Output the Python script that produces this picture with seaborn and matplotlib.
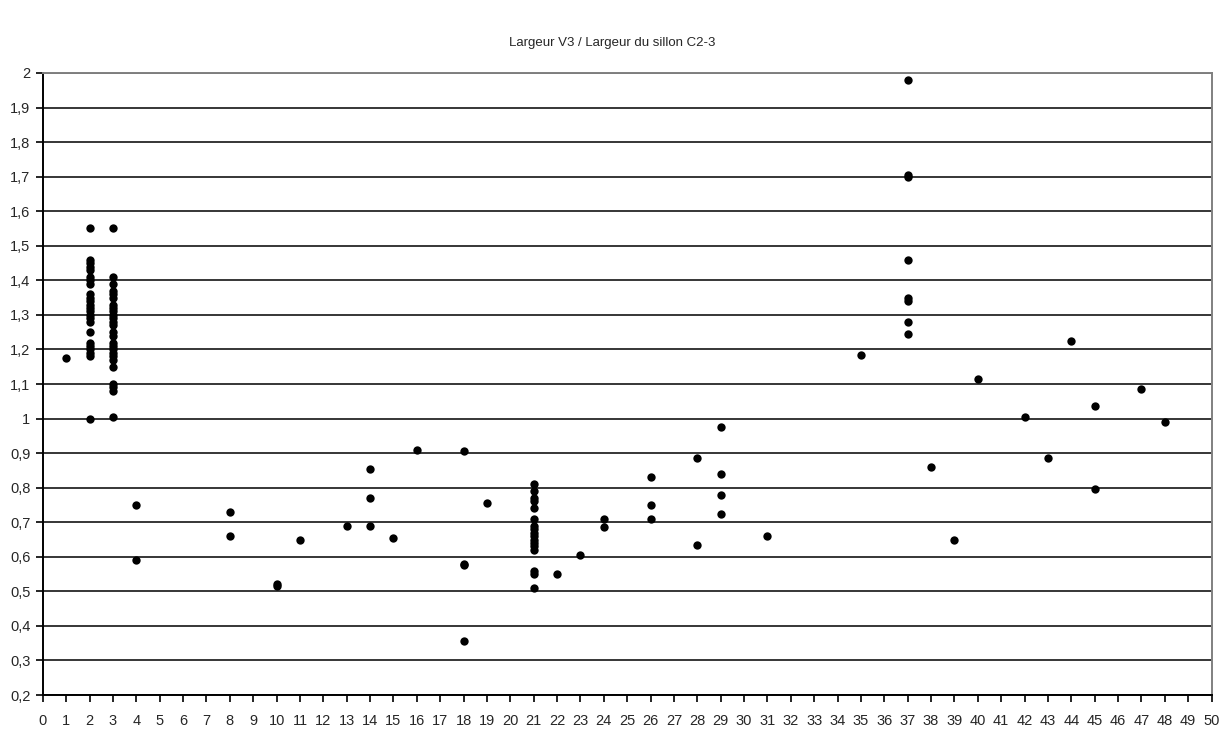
import numpy as np
import pandas as pd
import matplotlib
matplotlib.use('Agg')
import matplotlib.pyplot as plt
import seaborn as sns
from matplotlib.ticker import FuncFormatter, MultipleLocator

# valeurs
x_col2 = [2] * 24
y_col2 = [1.55, 1.46, 1.45, 1.44, 1.43, 1.41, 1.40, 1.39, 1.36, 1.35, 1.34, 1.33,
          1.32, 1.31, 1.30, 1.29, 1.28, 1.25, 1.22, 1.21, 1.20, 1.19, 1.18, 1.00]
x_col3 = [3] * 26
y_col3 = [1.55, 1.41, 1.39, 1.37, 1.36, 1.35, 1.33, 1.32, 1.31, 1.30, 1.29, 1.28, 1.27,
          1.25, 1.24, 1.22, 1.21, 1.20, 1.19, 1.18, 1.17, 1.15, 1.10, 1.09, 1.08, 1.005]
x_col21 = [21] * 17
y_col21 = [0.81, 0.79, 0.77, 0.76, 0.74, 0.71, 0.69, 0.68, 0.67, 0.66, 0.65, 0.64,
           0.63, 0.62, 0.56, 0.55, 0.51]
x_col37 = [37] * 8
y_col37 = [1.98, 1.705, 1.70, 1.46, 1.35, 1.34, 1.28, 1.245]
x_other = [1, 4, 4, 8, 8, 10, 10, 11, 13, 14, 14, 14, 15, 16, 18, 18, 18, 18, 19,
           22, 23, 24, 24, 26, 26, 26, 28, 28, 29, 29, 29, 29, 31, 35, 38, 39, 40,
           42, 43, 44, 45, 45, 47, 48]
y_other = [1.175, 0.75, 0.59, 0.73, 0.66, 0.52, 0.515, 0.65, 0.69, 0.855, 0.77, 0.69,
           0.655, 0.91, 0.905, 0.58, 0.575, 0.355, 0.755, 0.55, 0.605, 0.71, 0.685,
           0.83, 0.75, 0.71, 0.885, 0.635, 0.975, 0.84, 0.78, 0.725, 0.66, 1.185,
           0.86, 0.65, 1.115, 1.005, 0.885, 1.225, 1.035, 0.795, 1.085, 0.99]

df = pd.DataFrame({
    'x': x_col2 + x_col3 + x_col21 + x_col37 + x_other,
    'y': y_col2 + y_col3 + y_col21 + y_col37 + y_other,
})

sns.set_style("white")
plt.rcParams['font.family'] = ['Liberation Sans', 'DejaVu Sans']

fig = plt.figure(figsize=(12.25, 7.35), dpi=100)
ax = fig.add_axes([0.035, 0.0544, 0.954, 0.8463])

sns.scatterplot(data=df, x='x', y='y', color='black', s=36, marker='o',
                edgecolor='black', linewidth=0, ax=ax, zorder=3)

ax.set_xlim(0, 50)
ax.set_ylim(0.2, 2.0)
ax.xaxis.set_major_locator(MultipleLocator(1))
ax.yaxis.set_major_locator(MultipleLocator(0.1))
ax.yaxis.set_major_formatter(FuncFormatter(lambda v, p: f'{v:.1f}'.rstrip('0').rstrip('.').replace('.', ',')))
ax.grid(axis='y', color='black', linewidth=1.1)
ax.grid(axis='x', visible=False)
ax.set_axisbelow(True)

for side in ['left', 'bottom']:
    ax.spines[side].set_color('black')
    ax.spines[side].set_linewidth(1.4)
for side in ['top', 'right']:
    ax.spines[side].set_color('#808080')
    ax.spines[side].set_linewidth(1.4)

ax.tick_params(axis='both', direction='out', length=5, width=1.2, color='black',
               labelsize=10.5, bottom=True, left=True)
ax.tick_params(axis='x', pad=9)
ax.tick_params(axis='y', pad=4)
ax.set_xlabel('')
ax.set_ylabel('')

fig.suptitle('Largeur V3 / Largeur du sillon C2-3', y=0.95, fontsize=9.5)

plt.savefig('out.png', dpi=100)
